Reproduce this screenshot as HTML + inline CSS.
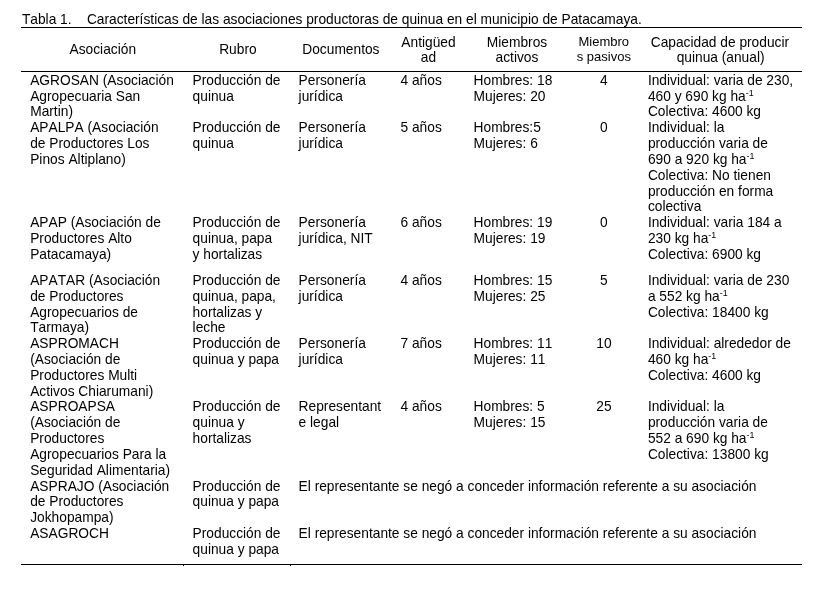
<!DOCTYPE html>
<html lang="es"><head><meta charset="utf-8"><title>Tabla 1</title>
<style>
html,body{margin:0;padding:0;background:#fff;}
body{font-kerning:none;font-variant-ligatures:none;width:821px;height:590px;position:relative;overflow:hidden;font-family:"Liberation Sans",sans-serif;color:#000;}
.t{position:absolute;white-space:pre;line-height:15px;height:15px;}
.c{transform:translateX(-50%);}
.r{position:absolute;background:#000;}
sup{font-size:8.9px;line-height:0;vertical-align:baseline;position:relative;top:-5.3px;letter-spacing:0;}
#w{position:absolute;left:0;top:0;width:821px;height:590px;will-change:transform;}
</style></head><body><div id="w">

<div class="r" style="left:21px;top:27px;width:781px;height:1px"></div>
<div class="r" style="left:21px;top:71px;width:781px;height:1px"></div>
<div class="r" style="left:21px;top:564px;width:781px;height:1px"></div>
<div class="r" style="left:183px;top:565px;width:1px;height:1px"></div>
<div class="r" style="left:290px;top:565px;width:1px;height:1px"></div>
<div class="t" style="left:21.90px;top:12.00px;font-size:13.75px;">Tabla 1.</div>
<div class="t" style="left:86.90px;top:12.00px;font-size:13.75px;">Características de las asociaciones productoras de quinua en el municipio de Patacamaya.</div>
<div class="t c" style="left:102.80px;top:42.00px;font-size:13.75px;">Asociación</div>
<div class="t c" style="left:237.90px;top:42.00px;font-size:13.75px;">Rubro</div>
<div class="t c" style="left:340.90px;top:42.00px;font-size:13.75px;">Documentos</div>
<div class="t c" style="left:428.50px;top:35.00px;font-size:13.75px;">Antigüed</div>
<div class="t c" style="left:428.50px;top:50.00px;font-size:13.75px;">ad</div>
<div class="t c" style="left:517.00px;top:35.00px;font-size:13.75px;">Miembros</div>
<div class="t c" style="left:517.00px;top:50.00px;font-size:13.75px;">activos</div>
<div class="t c" style="left:603.80px;top:34.00px;font-size:13.00px;">Miembro</div>
<div class="t c" style="left:603.80px;top:49.00px;font-size:13.00px;">s pasivos</div>
<div class="t c" style="left:719.90px;top:35.00px;font-size:13.75px;">Capacidad de producir</div>
<div class="t c" style="left:720.60px;top:50.00px;font-size:13.75px;">quinua (anual)</div>
<div class="t" style="left:30.20px;top:73.00px;font-size:13.75px;">AGROSAN (Asociación</div>
<div class="t" style="left:30.20px;top:89.00px;font-size:13.75px;">Agropecuaria San</div>
<div class="t" style="left:30.20px;top:104.00px;font-size:13.75px;">Martin)</div>
<div class="t" style="left:192.60px;top:73.00px;font-size:13.75px;">Producción de</div>
<div class="t" style="left:192.60px;top:89.00px;font-size:13.75px;">quinua</div>
<div class="t" style="left:298.60px;top:73.00px;font-size:13.75px;">Personería</div>
<div class="t" style="left:298.60px;top:89.00px;font-size:13.75px;">jurídica</div>
<div class="t" style="left:400.50px;top:73.00px;font-size:13.75px;">4 años</div>
<div class="t" style="left:473.60px;top:73.00px;font-size:13.75px;">Hombres: 18</div>
<div class="t" style="left:473.60px;top:89.00px;font-size:13.75px;">Mujeres: 20</div>
<div class="t c" style="left:603.90px;top:73.00px;font-size:13.75px;">4</div>
<div class="t" style="left:647.90px;top:73.00px;font-size:13.75px;">Individual: varia de 230,</div>
<div class="t" style="left:647.90px;top:89.00px;font-size:13.75px;">460 y 690 kg ha<sup>-1</sup></div>
<div class="t" style="left:647.90px;top:104.00px;font-size:13.75px;">Colectiva: 4600 kg</div>
<div class="t" style="left:30.20px;top:120.00px;font-size:13.75px;">APALPA (Asociación</div>
<div class="t" style="left:30.20px;top:136.00px;font-size:13.75px;">de Productores Los</div>
<div class="t" style="left:30.20px;top:152.00px;font-size:13.75px;">Pinos Altiplano)</div>
<div class="t" style="left:192.60px;top:120.00px;font-size:13.75px;">Producción de</div>
<div class="t" style="left:192.60px;top:136.00px;font-size:13.75px;">quinua</div>
<div class="t" style="left:298.60px;top:120.00px;font-size:13.75px;">Personería</div>
<div class="t" style="left:298.60px;top:136.00px;font-size:13.75px;">jurídica</div>
<div class="t" style="left:400.50px;top:120.00px;font-size:13.75px;">5 años</div>
<div class="t" style="left:473.60px;top:120.00px;font-size:13.75px;">Hombres:5</div>
<div class="t" style="left:473.60px;top:136.00px;font-size:13.75px;">Mujeres: 6</div>
<div class="t c" style="left:603.90px;top:120.00px;font-size:13.75px;">0</div>
<div class="t" style="left:647.90px;top:120.00px;font-size:13.75px;">Individual: la</div>
<div class="t" style="left:647.90px;top:136.00px;font-size:13.75px;">producción varia de</div>
<div class="t" style="left:647.90px;top:152.00px;font-size:13.75px;">690 a 920 kg ha<sup>-1</sup></div>
<div class="t" style="left:647.90px;top:168.00px;font-size:13.75px;">Colectiva: No tienen</div>
<div class="t" style="left:647.90px;top:184.00px;font-size:13.75px;">producción en forma</div>
<div class="t" style="left:647.90px;top:199.00px;font-size:13.75px;">colectiva</div>
<div class="t" style="left:30.20px;top:215.00px;font-size:13.75px;">APAP (Asociación de</div>
<div class="t" style="left:30.20px;top:231.00px;font-size:13.75px;">Productores Alto</div>
<div class="t" style="left:30.20px;top:247.00px;font-size:13.75px;">Patacamaya)</div>
<div class="t" style="left:192.60px;top:215.00px;font-size:13.75px;">Producción de</div>
<div class="t" style="left:192.60px;top:231.00px;font-size:13.75px;">quinua, papa</div>
<div class="t" style="left:192.60px;top:247.00px;font-size:13.75px;">y hortalizas</div>
<div class="t" style="left:298.60px;top:215.00px;font-size:13.75px;">Personería</div>
<div class="t" style="left:298.60px;top:231.00px;font-size:13.75px;">jurídica, NIT</div>
<div class="t" style="left:400.50px;top:215.00px;font-size:13.75px;">6 años</div>
<div class="t" style="left:473.60px;top:215.00px;font-size:13.75px;">Hombres: 19</div>
<div class="t" style="left:473.60px;top:231.00px;font-size:13.75px;">Mujeres: 19</div>
<div class="t c" style="left:603.90px;top:215.00px;font-size:13.75px;">0</div>
<div class="t" style="left:647.90px;top:215.00px;font-size:13.75px;">Individual: varia 184 a</div>
<div class="t" style="left:647.90px;top:231.00px;font-size:13.75px;">230 kg ha<sup>-1</sup></div>
<div class="t" style="left:647.90px;top:247.00px;font-size:13.75px;">Colectiva: 6900 kg</div>
<div class="t" style="left:30.20px;top:273.00px;font-size:13.75px;">APATAR (Asociación</div>
<div class="t" style="left:30.20px;top:289.00px;font-size:13.75px;">de Productores</div>
<div class="t" style="left:30.20px;top:305.00px;font-size:13.75px;">Agropecuarios de</div>
<div class="t" style="left:30.20px;top:320.00px;font-size:13.75px;">Tarmaya)</div>
<div class="t" style="left:192.60px;top:273.00px;font-size:13.75px;">Producción de</div>
<div class="t" style="left:192.60px;top:289.00px;font-size:13.75px;">quinua, papa,</div>
<div class="t" style="left:192.60px;top:305.00px;font-size:13.75px;">hortalizas y</div>
<div class="t" style="left:192.60px;top:320.00px;font-size:13.75px;">leche</div>
<div class="t" style="left:298.60px;top:273.00px;font-size:13.75px;">Personería</div>
<div class="t" style="left:298.60px;top:289.00px;font-size:13.75px;">jurídica</div>
<div class="t" style="left:400.50px;top:273.00px;font-size:13.75px;">4 años</div>
<div class="t" style="left:473.60px;top:273.00px;font-size:13.75px;">Hombres: 15</div>
<div class="t" style="left:473.60px;top:289.00px;font-size:13.75px;">Mujeres: 25</div>
<div class="t c" style="left:603.90px;top:273.00px;font-size:13.75px;">5</div>
<div class="t" style="left:647.90px;top:273.00px;font-size:13.75px;">Individual: varia de 230</div>
<div class="t" style="left:647.90px;top:289.00px;font-size:13.75px;">a 552 kg ha<sup>-1</sup></div>
<div class="t" style="left:647.90px;top:305.00px;font-size:13.75px;">Colectiva: 18400 kg</div>
<div class="t" style="left:30.20px;top:336.00px;font-size:13.75px;">ASPROMACH</div>
<div class="t" style="left:30.20px;top:352.00px;font-size:13.75px;">(Asociación de</div>
<div class="t" style="left:30.20px;top:368.00px;font-size:13.75px;">Productores Multi</div>
<div class="t" style="left:30.20px;top:384.00px;font-size:13.75px;">Activos Chiarumani)</div>
<div class="t" style="left:192.60px;top:336.00px;font-size:13.75px;">Producción de</div>
<div class="t" style="left:192.60px;top:352.00px;font-size:13.75px;">quinua y papa</div>
<div class="t" style="left:298.60px;top:336.00px;font-size:13.75px;">Personería</div>
<div class="t" style="left:298.60px;top:352.00px;font-size:13.75px;">jurídica</div>
<div class="t" style="left:400.50px;top:336.00px;font-size:13.75px;">7 años</div>
<div class="t" style="left:473.60px;top:336.00px;font-size:13.75px;">Hombres: 11</div>
<div class="t" style="left:473.60px;top:352.00px;font-size:13.75px;">Mujeres: 11</div>
<div class="t c" style="left:603.90px;top:336.00px;font-size:13.75px;">10</div>
<div class="t" style="left:647.90px;top:336.00px;font-size:13.75px;">Individual: alrededor de</div>
<div class="t" style="left:647.90px;top:352.00px;font-size:13.75px;">460 kg ha<sup>-1</sup></div>
<div class="t" style="left:647.90px;top:368.00px;font-size:13.75px;">Colectiva: 4600 kg</div>
<div class="t" style="left:30.20px;top:399.00px;font-size:13.75px;">ASPROAPSA</div>
<div class="t" style="left:30.20px;top:415.00px;font-size:13.75px;">(Asociación de</div>
<div class="t" style="left:30.20px;top:431.00px;font-size:13.75px;">Productores</div>
<div class="t" style="left:30.20px;top:447.00px;font-size:13.75px;">Agropecuarios Para la</div>
<div class="t" style="left:30.20px;top:463.00px;font-size:13.75px;">Seguridad Alimentaria)</div>
<div class="t" style="left:192.60px;top:399.00px;font-size:13.75px;">Producción de</div>
<div class="t" style="left:192.60px;top:415.00px;font-size:13.75px;">quinua y</div>
<div class="t" style="left:192.60px;top:431.00px;font-size:13.75px;">hortalizas</div>
<div class="t" style="left:298.60px;top:399.00px;font-size:13.75px;">Representant</div>
<div class="t" style="left:298.60px;top:415.00px;font-size:13.75px;">e legal</div>
<div class="t" style="left:400.50px;top:399.00px;font-size:13.75px;">4 años</div>
<div class="t" style="left:473.60px;top:399.00px;font-size:13.75px;">Hombres: 5</div>
<div class="t" style="left:473.60px;top:415.00px;font-size:13.75px;">Mujeres: 15</div>
<div class="t c" style="left:603.90px;top:399.00px;font-size:13.75px;">25</div>
<div class="t" style="left:647.90px;top:399.00px;font-size:13.75px;">Individual: la</div>
<div class="t" style="left:647.90px;top:415.00px;font-size:13.75px;">producción varia de</div>
<div class="t" style="left:647.90px;top:431.00px;font-size:13.75px;">552 a 690 kg ha<sup>-1</sup></div>
<div class="t" style="left:647.90px;top:447.00px;font-size:13.75px;">Colectiva: 13800 kg</div>
<div class="t" style="left:30.20px;top:479.00px;font-size:13.75px;">ASPRAJO (Asociación</div>
<div class="t" style="left:30.20px;top:494.00px;font-size:13.75px;">de Productores</div>
<div class="t" style="left:30.20px;top:510.00px;font-size:13.75px;">Jokhopampa)</div>
<div class="t" style="left:192.60px;top:479.00px;font-size:13.75px;">Producción de</div>
<div class="t" style="left:192.60px;top:494.00px;font-size:13.75px;">quinua y papa</div>
<div class="t" style="left:298.60px;top:479.00px;font-size:13.75px;">El representante se negó a conceder información referente a su asociación</div>
<div class="t" style="left:30.20px;top:526.00px;font-size:13.75px;">ASAGROCH</div>
<div class="t" style="left:192.60px;top:526.00px;font-size:13.75px;">Producción de</div>
<div class="t" style="left:192.60px;top:542.00px;font-size:13.75px;">quinua y papa</div>
<div class="t" style="left:298.60px;top:526.00px;font-size:13.75px;">El representante se negó a conceder información referente a su asociación</div>
</div></body></html>
